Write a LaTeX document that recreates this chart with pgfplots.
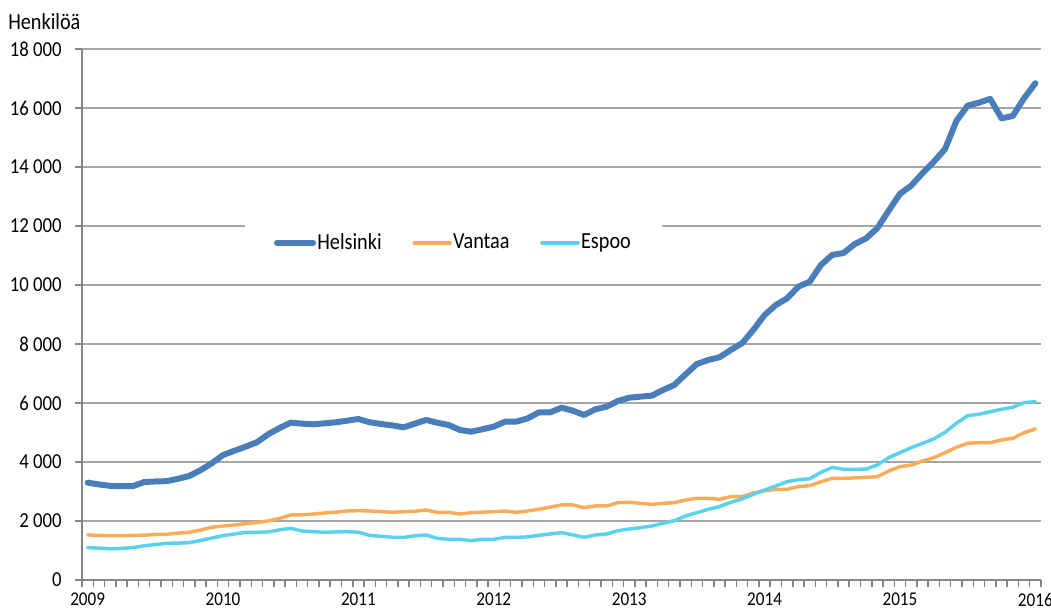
\documentclass[border=0pt]{standalone}
\usepackage{fontspec}
\setmainfont{Carlito}[FakeStretch=0.88]
\usepackage{pgfplots}
\usepackage{pgfplotstable}
\pgfplotsset{compat=1.18}
\definecolor{hel}{RGB}{74,126,187}
\definecolor{van}{RGB}{250,172,88}
\definecolor{esp}{RGB}{88,210,238}
\definecolor{gridc}{RGB}{165,165,165}
\definecolor{axc}{RGB}{134,134,134}

\pgfplotstableread{
m hel van esp
0 3300 1530 1100
1 3240 1510 1080
2 3190 1505 1055
3 3180 1505 1070
4 3180 1510 1100
5 3320 1520 1160
6 3340 1540 1200
7 3350 1550 1244
8 3430 1590 1250
9 3525 1617 1264
10 3720 1690 1340
11 3955 1786 1420
12 4237 1830 1502
13 4380 1864 1560
14 4519 1910 1617
15 4668 1950 1617
16 4939 2000 1630
17 5150 2090 1700
18 5333 2203 1753
19 5300 2210 1661
20 5278 2237 1640
21 5310 2270 1617
22 5346 2300 1630
23 5400 2339 1637
24 5458 2350 1620
25 5346 2340 1510
26 5290 2320 1480
27 5240 2295 1450
28 5176 2316 1440
29 5300 2330 1500
30 5424 2373 1525
31 5330 2294 1412
32 5254 2294 1380
33 5085 2237 1380
34 5028 2282 1333
35 5110 2300 1380
36 5198 2316 1380
37 5367 2339 1446
38 5367 2294 1446
39 5480 2339 1460
40 5683 2400 1514
41 5683 2470 1560
42 5841 2543 1604
43 5740 2543 1530
44 5594 2452 1446
45 5785 2509 1525
46 5876 2509 1559
47 6068 2621 1672
48 6181 2633 1729
49 6215 2599 1774
50 6249 2565 1830
51 6441 2599 1921
52 6611 2621 2011
53 6973 2712 2170
54 7322 2769 2282
55 7458 2769 2396
56 7549 2735 2486
57 7797 2825 2633
58 8024 2825 2746
59 8475 2950 2905
60 8983 3020 3050
61 9322 3074 3186
62 9548 3074 3333
63 9943 3164 3400
64 10113 3198 3430
65 10680 3333 3651
66 11020 3447 3820
67 11085 3447 3752
68 11390 3460 3752
69 11580 3481 3760
70 11930 3503 3898
71 12520 3695 4146
72 13090 3842 4316
73 13370 3898 4485
74 13790 4034 4634
75 14180 4146 4780
76 14610 4316 5007
77 15560 4497 5312
78 16080 4634 5570
79 16180 4655 5617
80 16310 4655 5705
81 15650 4746 5787
82 15730 4803 5855
83 16330 4994 6011
84 16840 5119 6045
}\data

\begin{document}
\fontsize{15}{18}\selectfont
\begin{tikzpicture}
\path[use as bounding box] (-61.5pt,-22.5pt) rectangle (726.75pt,435pt);
\begin{axis}[
  at={(0pt,0pt)}, anchor=south west,
  width=719.25pt, height=398.25pt, scale only axis,
  xmin=0, xmax=85, ymin=0, ymax=18000,
  axis x line*=bottom, axis y line*=left,
  axis line style={axc, line width=1.1pt, -},
  tick align=outside,
  major tick length=5.25pt, minor tick length=5.25pt,
  tick style={axc, line width=1.1pt},
  scaled y ticks=false,
  ytick={0,2000,...,18000},
  yticklabels={0,2 000,4 000,6 000,8 000,10 000,12 000,14 000,16 000,18 000},
  ymajorgrids, grid style={gridc, line width=1.1pt},
  xtick={0,1,...,85}, xticklabels={},
  extra x ticks={0.5,12.5,...,84.5},
  extra x tick labels={2009,2010,2011,2012,2013,2014,2015,2016},
  extra x tick style={major tick length=0pt},
  yticklabel style={anchor=east, inner sep=0pt, xshift=-9.75pt, font=\fontsize{16}{19}\selectfont},
  xticklabel style={anchor=north, inner sep=0pt, yshift=-9.5pt, font=\fontsize{14.6}{17}\selectfont},
  legend style={at={(0.387,0.635)}, anchor=center, draw=none, fill=white,
    inner xsep=22pt, inner ysep=13pt, font=\fontsize{17.25}{20}\selectfont,
    nodes={inner sep=1pt},
    /tikz/every even column/.append style={column sep=22pt}},
  legend columns=3,
  legend cell align=left,
  legend image code/.code={\draw[#1, line cap=round] (0pt,0pt) -- (27pt,0pt);},
]
\addplot[hel, line width=4.5pt, line join=round, line cap=round] table[x expr=\thisrow{m}+0.5, y=hel] {\data};
\addlegendentry{Helsinki}
\addplot[van, line width=2.6pt, line join=round, line cap=round] table[x expr=\thisrow{m}+0.5, y=van] {\data};
\addlegendentry{Vantaa}
\addplot[esp, line width=2.6pt, line join=round, line cap=round] table[x expr=\thisrow{m}+0.5, y=esp] {\data};
\addlegendentry{Espoo}
\end{axis}
\node[anchor=base west, inner sep=0pt, font=\fontsize{17.25}{20}\selectfont] at (-55.5pt,412.5pt) {Henkilöä};
\end{tikzpicture}
\end{document}
